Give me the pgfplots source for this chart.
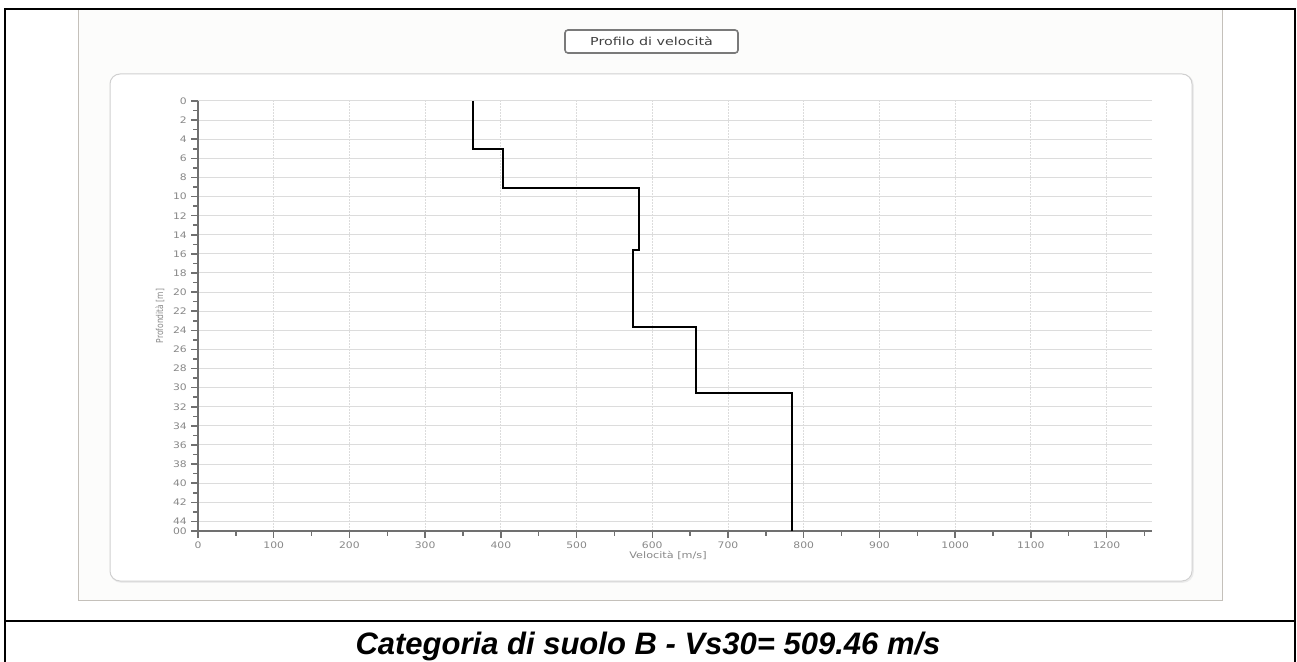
\documentclass[border=0pt]{standalone}
\usepackage{fontspec}
\setmainfont{DejaVu Sans}
\newfontfamily\capfont{Liberation Sans}
\usepackage{graphicx}
\usepackage{pgfplots}
\pgfplotsset{compat=1.18}
\definecolor{tickgray}{HTML}{888888}
\definecolor{axisgray}{HTML}{707070}
\definecolor{gridgray}{HTML}{DCDCDC}
\definecolor{panelbg}{HTML}{FCFCFB}
\definecolor{panelborder}{HTML}{C4C0BA}
\definecolor{boxgray}{HTML}{D0D0D0}
\definecolor{titlegray}{HTML}{7A7A7A}
\definecolor{titletext}{HTML}{404040}
\begin{document}
\begin{tikzpicture}[x=1pt,y=1pt]
\useasboundingbox (0,0) rectangle (1297,661);
\fill[white] (0,0) rectangle (1297,661);
% panel
\draw[fill=panelbg, draw=panelborder, line width=1pt] (78,652) rectangle (1222,61);
% outer frame
\draw[line width=2pt] (5,652) rectangle (1295,-11);
\draw[line width=2pt] (5,40) -- (1295,40);
% rounded box
\draw[rounded corners=10pt, draw=gray!15, line width=1.5pt] (111,586) rectangle (1193,79);
\draw[rounded corners=10pt, draw=boxgray, fill=white, line width=1pt] (110,587) rectangle (1192,80);
% title box
\draw[rounded corners=3pt, draw=titlegray, line width=1.6pt, fill=white] (565,631) rectangle (738,608);
\node[font=\fontsize{11}{13}\selectfont, text=titletext, xscale=1.3] at (651.5,619.5) {Profilo di velocità};
\begin{axis}[
  at={(198pt,130pt)}, anchor=south west,
  scale only axis, width=954pt, height=430pt,
  xmin=0, xmax=1260, ymin=-45, ymax=0,
  axis x line*=bottom, axis y line*=left,
  axis line style={draw=axisgray, line width=1.8pt, -},
  xtick={0,100,...,1200}, minor xtick={50,150,...,1250},
  ytick={-44,-42,...,0},
  yticklabels={44,42,40,38,36,34,32,30,28,26,24,22,20,18,16,14,12,10,8,6,4,2,0},
  minor ytick={-43,-41,...,-1},
  extra y ticks={-45}, extra y tick labels={00}, extra y tick style={grid=none},
  tick align=outside, major tick length=7pt, minor tick length=5pt,
  tick style={draw=axisgray, line width=1.5pt},
  grid=major,
  x grid style={draw=gridgray, line width=0.8pt, dash pattern=on 2pt off 1pt},
  y grid style={draw=gridgray, line width=1pt},
  tick label style={font=\fontsize{9}{10}\selectfont, text=tickgray, xscale=1.2},
  /pgf/number format/assume math mode=true,
  /pgf/number format/1000 sep={},
  xlabel={Velocità [m/s]},
  xlabel style={at={(axis description cs:0.4927,0)}, anchor=center, yshift=-24pt, font=\fontsize{9}{10}\selectfont, text=tickgray, xscale=1.25},
  ylabel={\scalebox{0.8}[1]{Profondità [m]}},
  ylabel style={at={(axis description cs:-0.0398,0.5)}, anchor=center, font=\fontsize{9.5}{10}\selectfont, text=tickgray},
]
\addplot[black, line width=2pt, line join=miter] coordinates {
  (363,0) (363,-5.0) (403,-5.0) (403,-9.1) (583,-9.1) (583,-15.6)
  (575,-15.6) (575,-23.6) (658,-23.6) (658,-30.6) (784,-30.6) (784,-45)
};
\end{axis}
\node[font=\capfont\bfseries\itshape\fontsize{31}{34}\selectfont, anchor=base] at (648,7) {Categoria di suolo B - Vs30= 509.46 m/s};
\end{tikzpicture}
\end{document}
